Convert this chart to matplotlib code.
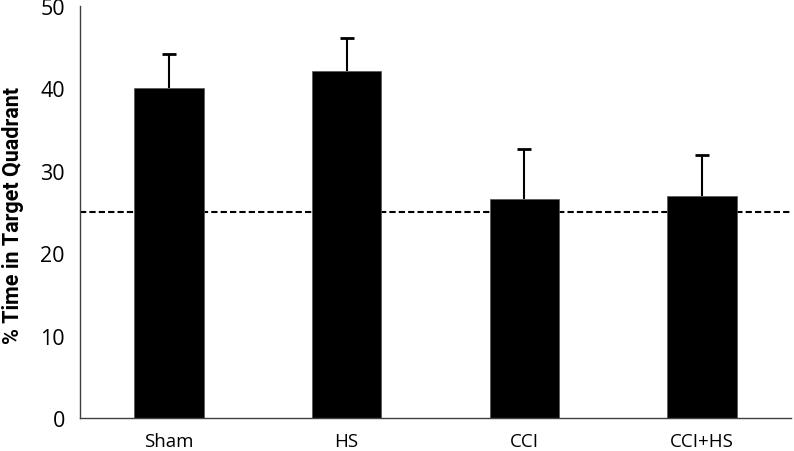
import numpy as np
import matplotlib.pyplot as plt

groups = ['Sham', 'HS', 'CCI', 'CCI+HS']
means = [40.0, 42.1, 26.6, 27.0]
sem = [4.2, 4.0, 6.0, 4.9]
chance = 25

plt.rcParams['font.family'] = ['Open Sans', 'DejaVu Sans']

fig = plt.figure(figsize=(7.94, 4.52), dpi=100)
ax = fig.add_axes([0.1008, 0.073, 0.8952, 0.9115])

x = np.arange(len(groups))
tops = np.array(means) + np.array(sem)

ax.axhline(chance, color='black', lw=1.5, ls=(0, (3, 1.5)), zorder=1)
ax.bar(x, means, width=0.39, color='black', edgecolor='#555555', lw=0.5, zorder=2)
# upper error bars only
ax.vlines(x, means, tops, color='black', lw=1.5, zorder=3)
ax.plot(x, tops, ls='none', marker='_', ms=10, mew=2, color='black', zorder=3)

ax.set_xlim(-0.5, 3.5)
ax.set_ylim(0, 50)
ax.set_yticks(range(0, 51, 10))
ax.set_xticks(x)
ax.set_xticklabels(groups, fontsize=13.5)
ax.tick_params(axis='y', length=0, labelsize=15.5, pad=11)
ax.tick_params(axis='x', length=0, pad=10)
ax.set_ylabel('% Time in Target Quadrant', fontsize=15.5, fontweight='bold',
              family=['Roboto', 'DejaVu Sans'])
ax.yaxis.set_label_coords(-0.079, 0.493)

for side in ['top', 'right']:
    ax.spines[side].set_visible(False)
for side in ['left', 'bottom']:
    ax.spines[side].set_color('#404040')
    ax.spines[side].set_linewidth(1)

fig.savefig('out.png', dpi=100)
